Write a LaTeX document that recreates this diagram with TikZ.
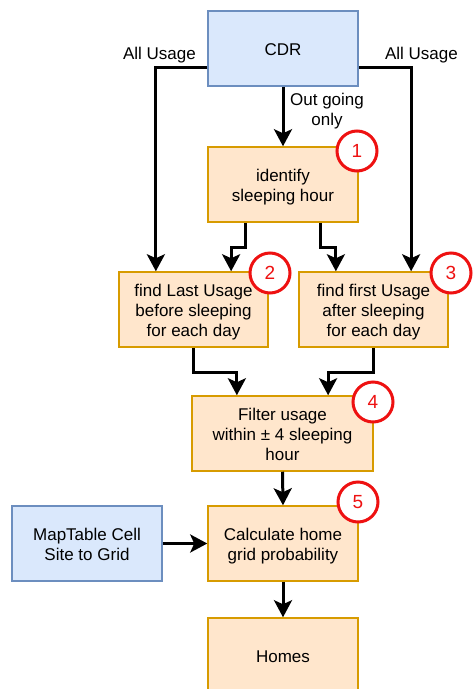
\documentclass[tikz,border=0pt]{standalone}
\usepackage{fontspec}
\setmainfont{Liberation Sans}
\usetikzlibrary{arrows.meta,calc}
\definecolor{bluefill}{HTML}{DAE8FC}
\definecolor{bluedraw}{HTML}{6C8EBF}
\definecolor{orfill}{HTML}{FFE6CC}
\definecolor{ordraw}{HTML}{D79B00}
\definecolor{badgered}{HTML}{EE1111}
% centred lines of box text with even line spacing, set a little low
\newcommand{\boxtext}[1]{\raisebox{-3pt}[\height][\depth]{\begin{tabular}{@{}c@{}}#1\end{tabular}}}
\begin{document}
\begin{tikzpicture}[x=1pt,y=-1pt,
  every node/.style={font=\fontsize{17}{20}\selectfont, inner sep=0pt},
  bluebox/.style={draw=bluedraw, fill=bluefill, line width=1.5pt, minimum width=150pt, minimum height=75pt},
  orbox/.style={draw=ordraw, fill=orfill, line width=1.5pt, minimum width=150pt, minimum height=75pt},
  badge/.style={circle, draw=badgered, fill=white, line width=3pt, minimum size=40pt, text=badgered, font=\fontsize{19}{20}\selectfont},
  flow/.style={line width=3pt, -{Stealth[length=17pt,width=18pt,inset=4pt]}},
  lbl/.style={align=center}]
\clip (0,0) rectangle (473,689);
\useasboundingbox (0,0) rectangle (473,689);

% data sources and processing steps
\node[bluebox] (cdr) at (283,48.5) {\boxtext{CDR}};
\node[orbox] (b1) at (283,184.5) {\boxtext{identify\\sleeping hour}};
\node[orbox, minimum width=149pt] (b2) at (193.5,309.5) {\boxtext{find Last Usage\\before sleeping\\for each day}};
\node[orbox, minimum width=149pt] (b3) at (373.5,309.5) {\boxtext{find first Usage\\after sleeping\\for each day}};
\node[orbox, minimum width=181pt] (b4) at (282.5,433.5) {\boxtext{Filter usage\\within ± 4 sleeping\\hour}};
\node[orbox] (b5) at (283,543.5) {\boxtext{Calculate home\\grid probability}};
\node[bluebox] (map) at (87,543.5) {\boxtext{MapTable Cell\\Site to Grid}};
\node[orbox] (homes) at (283,655.5) {\boxtext{Homes}};

% connectors
\draw[flow] ($(cdr.north west)!0.75!(cdr.south west)$) -| ($(b2.north west)!0.25!(b2.north east)$);
\draw[flow] ($(cdr.north east)!0.75!(cdr.south east)$) -| ($(b3.north west)!0.75!(b3.north east)$);
\draw[flow] (cdr.south) -- (b1.north);
\draw[flow] ($(b1.south west)!0.25!(b1.south east)$) -- ++(0,25) -| ($(b2.north west)!0.75!(b2.north east)$);
\draw[flow] ($(b1.south west)!0.75!(b1.south east)$) -- ++(0,25) -| ($(b3.north west)!0.25!(b3.north east)$);
\draw[flow] (b2.south) -- ++(0,24.5) -| ($(b4.north west)!0.25!(b4.north east)$);
\draw[flow] (b3.south) -- ++(0,24.5) -| ($(b4.north west)!0.75!(b4.north east)$);
\draw[flow] (b4.south) -- (b5.north);
\draw[flow] (map.east) -- (b5.west);
\draw[flow] (b5.south) -- (homes.north);

% connector labels
\node[lbl] (lall) at (159.5,55.5) {All Usage};
\node[lbl] (rall) at (421.5,55.5) {All Usage};
\node[lbl] (outl) at (327,111.5) {Out going\\only};

% step numbers
\node[badge] (n1) at (357,151) {1};
\node[badge] (n2) at (270,273) {2};
\node[badge] (n3) at (451,273) {3};
\node[badge] (n4) at (373,402) {4};
\node[badge] (n5) at (358,502) {5};
\end{tikzpicture}
\end{document}
